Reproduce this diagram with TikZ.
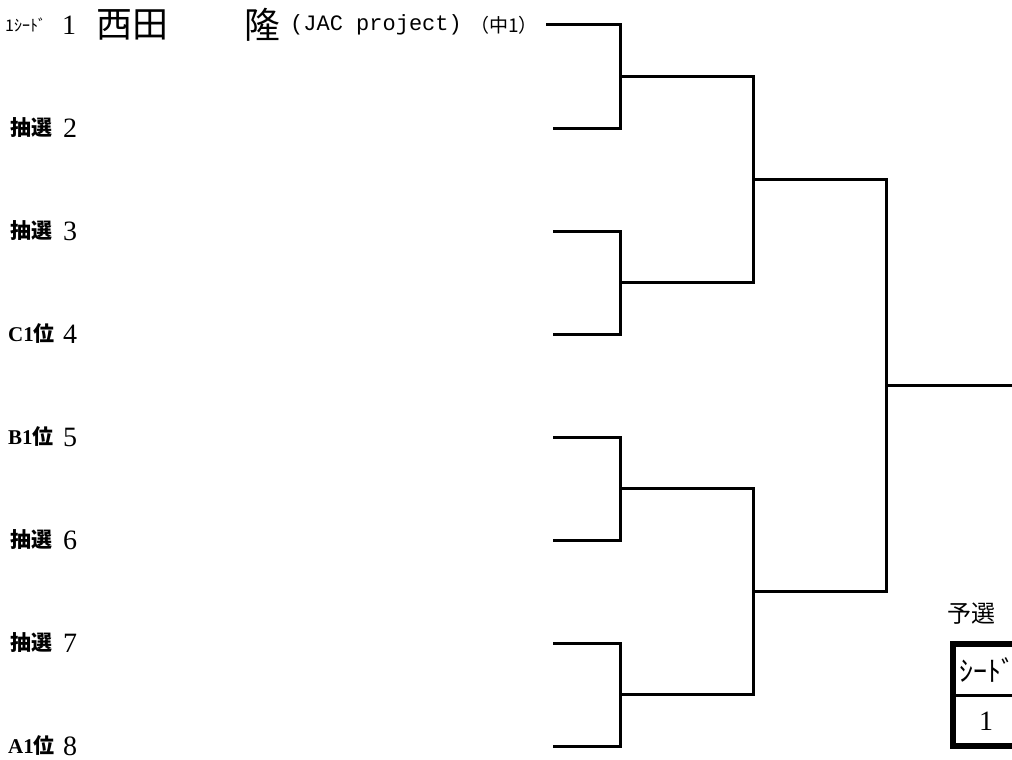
\documentclass[tikz,border=0pt]{standalone}
\usepackage{fontspec}
\newfontfamily\jp{Noto Sans CJK JP}
\newfontfamily\mono{Liberation Mono}
\newfontfamily\lser{Liberation Serif}
\tikzset{
  br/.style={line width=3pt, line join=miter},
  lbl/.style={anchor=west, inner sep=0pt, font=\jp\bfseries\fontsize{21}{21}\selectfont},
  num/.style={anchor=west, inner sep=0pt, font=\lser\fontsize{28}{28}\selectfont},
  jname/.style={anchor=west, inner sep=0pt, font=\jp\fontsize{36}{36}\selectfont},
}
\begin{document}
\begin{tikzpicture}[x=1pt,y=-1pt]
\clip (0,0) rectangle (1012,760);
\fill[white] (0,0) rectangle (1012,760);
% row 1 texts
\node[anchor=west, inner sep=0pt, font=\jp\fontsize{16}{16}\selectfont] (seed) at (5,25) {1ｼｰﾄﾞ};
\node[num] (n1) at (62,25) {1};
\node[jname] (nm1) at (96,25) {西田};
\node[jname] (nm2) at (244,25) {隆};
\node[anchor=west, inner sep=0pt, font=\mono\fontsize{22}{22}\selectfont] (club) at (290,25) {(JAC project)};
\node[anchor=west, inner sep=0pt, font=\jp\fontsize{19}{19}\selectfont] (grade) at (470,25) {（中1）};
% other rows
\node[lbl] (l2) at (10,128) {抽選};  \node[num] (n2) at (63,128) {2};
\node[lbl] (l3) at (10,231) {抽選};  \node[num] (n3) at (63,231) {3};
\node[lbl] (l4) at (8,334) {{\lser\bfseries C1}位}; \node[num] (n4) at (63,334) {4};
\node[lbl] (l5) at (8,437) {{\lser\bfseries B1}位}; \node[num] (n5) at (63,437) {5};
\node[lbl] (l6) at (10,540) {抽選};  \node[num] (n6) at (63,540) {6};
\node[lbl] (l7) at (10,643) {抽選};  \node[num] (n7) at (63,643) {7};
\node[lbl] (l8) at (8,746) {{\lser\bfseries A1}位}; \node[num] (n8) at (63,746) {8};
% bracket coordinates
\coordinate (s1) at (546,25);
\coordinate (s2) at (553,128);
\coordinate (s3) at (553,231);
\coordinate (s4) at (553,334);
\coordinate (s5) at (553,437);
\coordinate (s6) at (553,540);
\coordinate (s7) at (553,643);
\coordinate (s8) at (553,746);
\coordinate (m1) at (620,76.5);
\coordinate (m2) at (620,282.5);
\coordinate (m3) at (620,488.5);
\coordinate (m4) at (620,694.5);
\coordinate (q1) at (753,179.5);
\coordinate (q2) at (753,591.5);
\coordinate (f) at (886,385.5);
\coordinate (w) at (1020,385.5);
\draw[br] (s1) -| (m1) |- (s2);
\draw[br] (s3) -| (m2) |- (s4);
\draw[br] (s5) -| (m3) |- (s6);
\draw[br] (s7) -| (m4) |- (s8);
\draw[br] (m1) -| (q1) |- (m2);
\draw[br] (m3) -| (q2) |- (m4);
\draw[br] (q1) -| (f) |- (q2);
\draw[br] (f) -- (w);
% table
\node[anchor=west, inner sep=0pt, font=\jp\fontsize{24}{24}\selectfont] (yosen) at (947,614) {予選};
\draw[line width=6pt] (1030,644) -- (953,644) -- (953,746) -- (1030,746);
\coordinate (tl) at (953,695);
\coordinate (tr) at (1030,695);
\draw[line width=3pt] (tl) -- (tr);
\node[anchor=west, inner sep=0pt, font=\jp\fontsize{28}{28}\selectfont] (seedh) at (959,670) {ｼｰﾄﾞ};
\node[inner sep=0pt, font=\lser\fontsize{28}{28}\selectfont] (seedv) at (986,721) {1};
\end{tikzpicture}
\end{document}
